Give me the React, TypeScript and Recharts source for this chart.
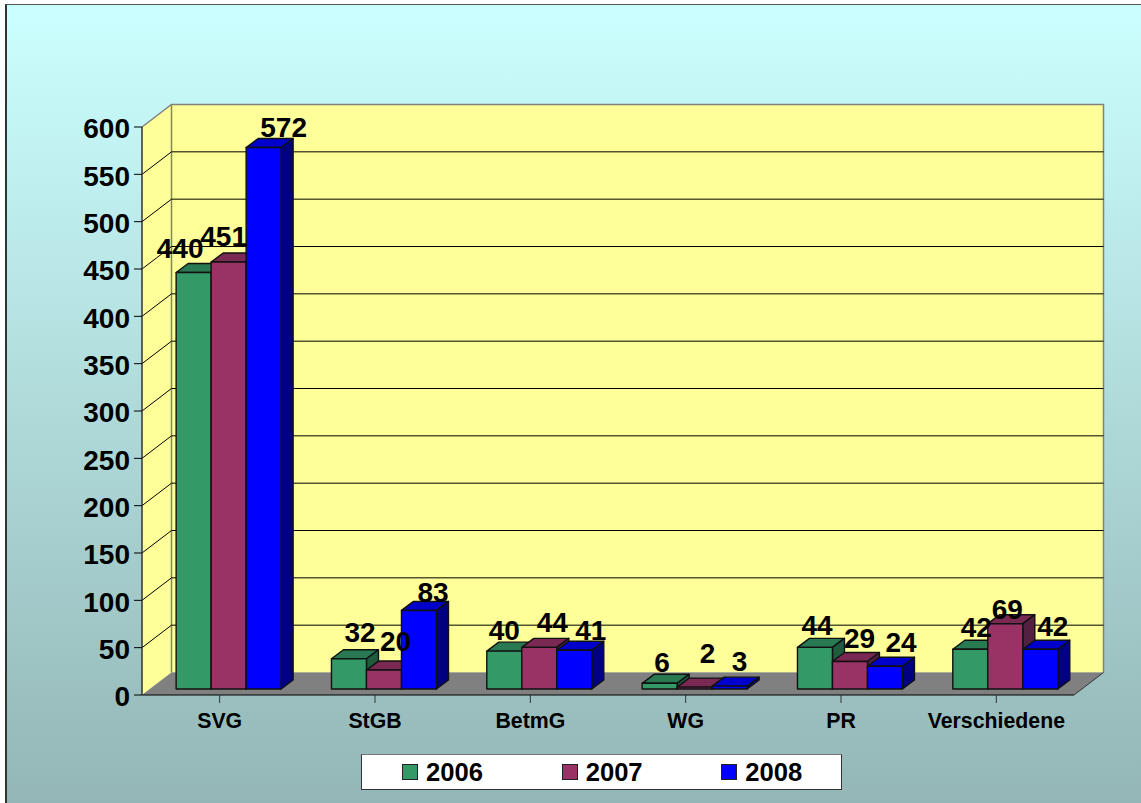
import { Bar, BarChart, CartesianGrid, LabelList, Legend, XAxis, YAxis } from 'recharts'

const categories = ['SVG', 'StGB', 'BetmG', 'WG', 'PR', 'Verschiedene']
const values2006 = [440, 32, 40, 6, 44, 42]
const values2007 = [451, 20, 44, 2, 29, 69]
const values2008 = [572, 83, 41, 3, 24, 42]
const yTicks = [0, 50, 100, 150, 200, 250, 300, 350, 400, 450, 500, 550, 600]

const data = categories.map((name, i) => ({
  name,
  y2006: values2006[i],
  y2007: values2007[i],
  y2008: values2008[i]
}))

// hand placed data labels, offset from the top centre of each bar
const nudges2006 = [[-13.5, -24.5], [11, -27], [0, -21], [2.5, -21], [2, -22], [6, -22]]
const nudges2007 = [[-5, -26], [11.5, -29], [13, -25], [13, -34], [9.5, -23.5], [2, -15]]
const nudges2008 = [[20, -20.5], [14, -18], [16.5, -20], [10, -25], [16, -24], [12.5, -23]]

const W = 1141
const H = 803
const PLOT = { left: 142, top: 127, right: 1074, bottom: 695 }
const WALL_DX = 29.5
const WALL_DY = 22.5
const DEPTH_DX = 12
const DEPTH_DY = 9
// bars stand a little behind the front edge of the floor
const BAR_DX = 8.5
const BAR_DY = -6
const FONT = '"Liberation Sans", Arial, sans-serif'

const SHADES: Record<string, { top: string; side: string }> = {
  '#339966': { top: '#297a52', side: '#1f5c3d' },
  '#993366': { top: '#7a2952', side: '#522040' },
  '#0000ff': { top: '#0000cc', side: '#000080' }
}

const Bar3D = (props: any) => {
  const { x, y, width, height, fill } = props
  const shade = SHADES[fill]
  const r = x + width
  const b = y + height
  return (
    <g transform={`translate(${BAR_DX} ${BAR_DY})`} stroke="#111" strokeWidth={1.4} strokeLinejoin="round">
      <polygon
        points={`${x},${y} ${x + DEPTH_DX},${y - DEPTH_DY} ${r + DEPTH_DX},${y - DEPTH_DY} ${r},${y}`}
        fill={shade.top}
      />
      <polygon
        points={`${r},${y} ${r + DEPTH_DX},${y - DEPTH_DY} ${r + DEPTH_DX},${b - DEPTH_DY} ${r},${b}`}
        fill={shade.side}
      />
      <rect x={x} y={y} width={width} height={height} fill={fill} />
    </g>
  )
}

const nudgedLabel = (nudges: number[][]) => (props: any) => {
  const { x, y, width, value, index } = props
  const [dx, dy] = nudges[index]
  return (
    <text
      x={x + width / 2 + BAR_DX + dx}
      y={y + BAR_DY + dy + 10}
      textAnchor="middle"
      fontFamily={FONT}
      fontWeight="bold"
      fontSize={28}
      fill="#000"
    >
      {value}
    </text>
  )
}

// grid lines run up the left wall and then along the back wall
const WallLine = (props: any) => {
  const { x1, x2, y1 } = props
  if (y1 <= PLOT.top + 1 || y1 >= PLOT.bottom - 1) return <g />
  return (
    <polyline
      points={`${x1},${y1} ${x1 + WALL_DX},${y1 - WALL_DY} ${x2 + WALL_DX},${y1 - WALL_DY}`}
      fill="none"
      stroke="#000"
      strokeWidth={1}
    />
  )
}

const Backdrop = () => {
  const { left, top, right, bottom } = PLOT
  const backLeft = left + WALL_DX
  const backRight = right + WALL_DX
  const backTop = top - WALL_DY
  const backBottom = bottom - WALL_DY
  return (
    <svg width={W} height={H} style={{ position: 'absolute', left: 0, top: 0 }}>
      <polygon
        points={`${left},${top} ${backLeft},${backTop} ${backRight},${backTop} ${backRight},${backBottom} ${backLeft},${backBottom} ${left},${bottom}`}
        fill="#ffff99"
      />
      <polygon
        points={`${left},${bottom} ${backLeft},${backBottom} ${backRight},${backBottom} ${right},${bottom}`}
        fill="#808080"
      />
      <polyline
        points={`${left},${top} ${backLeft},${backTop} ${backRight},${backTop} ${backRight},${backBottom}`}
        fill="none"
        stroke="#808080"
        strokeWidth={1.5}
      />
      <line x1={backLeft} y1={backTop} x2={backLeft} y2={backBottom} stroke="#808080" strokeWidth={1.5} />
      <line x1={right} y1={bottom} x2={backRight} y2={backBottom} stroke="#333" strokeWidth={1} />
    </svg>
  )
}

const LegendBox = (props: any) => (
  <div
    style={{
      boxSizing: 'border-box',
      width: 481,
      height: 36,
      background: '#fff',
      border: '1px solid #333',
      borderTopColor: '#777',
      display: 'flex',
      alignItems: 'center',
      fontFamily: FONT,
      fontWeight: 'bold',
      fontSize: 25.6
    }}
  >
    {props.payload.map((item: any) => (
      <div key={item.value} style={{ width: 160, paddingLeft: 40, boxSizing: 'border-box', display: 'flex', alignItems: 'center' }}>
        <span
          style={{
            boxSizing: 'border-box',
            width: 16,
            height: 16,
            marginRight: 8,
            background: item.color,
            border: '1.5px solid #222'
          }}
        />
        <span style={{ color: '#000' }}>{item.value}</span>
      </div>
    ))}
  </div>
)

const App = () => {
  return (
    <div style={{ position: 'absolute', left: 0, top: 0, width: W, height: H, background: '#fff', overflow: 'hidden' }}>
      <div
        style={{
          position: 'absolute',
          left: 5,
          top: 4,
          right: 0,
          bottom: 0,
          borderLeft: '2px solid #333',
          borderTop: '1px solid #555',
          background: 'linear-gradient(180deg, #ccffff 0%, #94b6b6 100%)'
        }}
      />
      <Backdrop />
      <BarChart
        width={W}
        height={H}
        data={data}
        barCategoryGap="16.5%"
        barGap={0}
        margin={{ top: PLOT.top, right: W - PLOT.right, bottom: 48, left: 42 }}
        style={{ position: 'absolute', left: 0, top: 0 }}
      >
        <CartesianGrid vertical={false} horizontal={WallLine} />
        <XAxis
          dataKey="name"
          interval={0}
          height={60}
          tickSize={8}
          tickMargin={10}
          axisLine={{ stroke: '#000', strokeWidth: 1 }}
          tickLine={{ stroke: '#333' }}
          tick={{ fontFamily: FONT, fontWeight: 'bold', fontSize: 21.3, fill: '#000' }}
        />
        <YAxis
          width={100}
          domain={[0, 600]}
          ticks={yTicks}
          interval={0}
          tickSize={8}
          tickMargin={4}
          axisLine={{ stroke: '#333', strokeWidth: 1.5 }}
          tickLine={{ stroke: '#000' }}
          tick={{ fontFamily: FONT, fontWeight: 'bold', fontSize: 28, fill: '#000', dy: 1.5 }}
        />
        <Legend
          verticalAlign="middle"
          content={LegendBox}
          wrapperStyle={{ left: 361, top: 754, width: 481, height: 36 }}
        />
        <Bar dataKey="y2006" name="2006" fill="#339966" shape={Bar3D} isAnimationActive={false}>
          <LabelList dataKey="y2006" content={nudgedLabel(nudges2006)} />
        </Bar>
        <Bar dataKey="y2007" name="2007" fill="#993366" shape={Bar3D} isAnimationActive={false}>
          <LabelList dataKey="y2007" content={nudgedLabel(nudges2007)} />
        </Bar>
        <Bar dataKey="y2008" name="2008" fill="#0000ff" shape={Bar3D} isAnimationActive={false}>
          <LabelList dataKey="y2008" content={nudgedLabel(nudges2008)} />
        </Bar>
      </BarChart>
    </div>
  )
}

export default App
